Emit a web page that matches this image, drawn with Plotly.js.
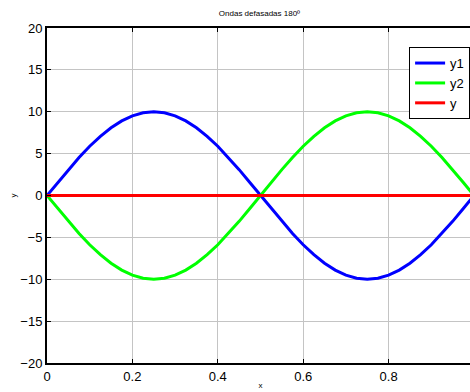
<!DOCTYPE html>
<html>
<head>
<meta charset="utf-8">
<script src="https://cdn.plot.ly/plotly-3.0.1.min.js"></script>
<style>
html, body { margin: 0; padding: 0; overflow: hidden; background: #fff; }
#chart { width: 476px; height: 392px; }
</style>
</head>
<body>
<div id="chart"></div>
<script>
var xVals = [0, 0.025, 0.05, 0.075, 0.1, 0.125, 0.15, 0.175, 0.2, 0.225, 0.25,
  0.275, 0.3, 0.325, 0.35, 0.375, 0.4, 0.425, 0.45, 0.475, 0.5,
  0.525, 0.55, 0.575, 0.6, 0.625, 0.65, 0.675, 0.7, 0.725, 0.75,
  0.775, 0.8, 0.825, 0.85, 0.875, 0.9, 0.925, 0.95, 0.975, 1];
var y1Vals = [0, 1.56, 3.09, 4.54, 5.88, 7.07, 8.09, 8.91, 9.51, 9.88, 10,
  9.88, 9.51, 8.91, 8.09, 7.07, 5.88, 4.54, 3.09, 1.56, 0,
  -1.56, -3.09, -4.54, -5.88, -7.07, -8.09, -8.91, -9.51, -9.88, -10,
  -9.88, -9.51, -8.91, -8.09, -7.07, -5.88, -4.54, -3.09, -1.56, 0];
var y2Vals = [0, -1.56, -3.09, -4.54, -5.88, -7.07, -8.09, -8.91, -9.51, -9.88, -10,
  -9.88, -9.51, -8.91, -8.09, -7.07, -5.88, -4.54, -3.09, -1.56, 0,
  1.56, 3.09, 4.54, 5.88, 7.07, 8.09, 8.91, 9.51, 9.88, 10,
  9.88, 9.51, 8.91, 8.09, 7.07, 5.88, 4.54, 3.09, 1.56, 0];
var ySumVals = [0, 0, 0, 0, 0, 0, 0, 0, 0, 0, 0,
  0, 0, 0, 0, 0, 0, 0, 0, 0, 0,
  0, 0, 0, 0, 0, 0, 0, 0, 0, 0,
  0, 0, 0, 0, 0, 0, 0, 0, 0, 0];
var seriesNames = ['y1', 'y2', 'y'];
var xTicks = [0, 0.2, 0.4, 0.6, 0.8];
var xTickText = ['0', '0.2', '0.4', '0.6', '0.8'];
var yTicks = [-20, -15, -10, -5, 0, 5, 10, 15, 20];

var font = 'Liberation Sans, Arial, sans-serif';
var traces = [
  {x: xVals, y: y1Vals, name: seriesNames[0], mode: 'lines', line: {color: '#0000ff', width: 3}},
  {x: xVals, y: y2Vals, name: seriesNames[1], mode: 'lines', line: {color: '#00ff00', width: 3}},
  {x: xVals, y: ySumVals, name: seriesNames[2], mode: 'lines', line: {color: '#ff0000', width: 3}}
];
var axisCommon = {
  showline: true, linecolor: '#000', linewidth: 2, mirror: 'ticks',
  ticks: 'inside', ticklen: 4, tickcolor: '#000', tickwidth: 1,
  showgrid: true, gridcolor: '#c4c4c4', gridwidth: 1,
  zeroline: false, tickfont: {family: font, size: 13, color: '#000'}
};
var layout = {
  width: 476, height: 392,
  margin: {l: 47, r: 2, t: 28, b: 29},
  paper_bgcolor: '#fff', plot_bgcolor: '#fff',
  title: {text: 'Ondas defasadas 180º', font: {family: font, size: 8, color: '#000000'},
    x: 0.545, xanchor: 'center', y: 0.967, yanchor: 'middle'},
  xaxis: Object.assign({}, axisCommon, {
    range: [0, 1], tickvals: xTicks, ticktext: xTickText,
    title: {text: 'x', font: {family: font, size: 8, color: '#000'}, standoff: 0}
  }),
  yaxis: Object.assign({}, axisCommon, {
    range: [-20, 20], tickvals: yTicks,
    title: {text: 'y', font: {family: font, size: 8, color: '#000'}, standoff: 3}
  }),
  showlegend: true,
  legend: {x: 0.848, y: 0.943, xanchor: 'left', yanchor: 'top',
    bgcolor: '#fff', bordercolor: '#000', borderwidth: 1,
    font: {family: font, size: 13, color: '#000'}, tracegroupgap: 0, itemwidth: 30}
};
Plotly.newPlot('chart', traces, layout, {displayModeBar: false, staticPlot: true});
</script>
</body>
</html>
